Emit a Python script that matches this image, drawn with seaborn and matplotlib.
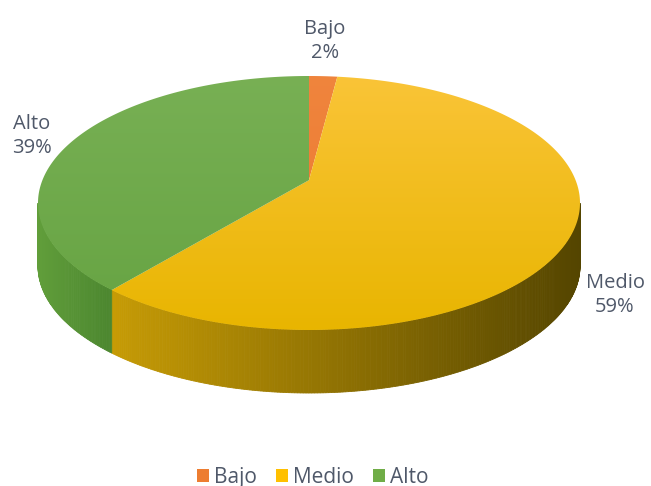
import numpy as np
import matplotlib
matplotlib.use("Agg")
import matplotlib.pyplot as plt
from matplotlib.patches import Polygon, Patch
import seaborn as sns

# ---- data ----
categories = ["Bajo", "Medio", "Alto"]
values = [2, 59, 39]
colors = ["#ED7D31", "#FFC000", "#70AD47"]

sns.set_theme(style="white")
plt.rcParams["font.family"] = ["Open Sans", "DejaVu Sans"]

W, H = 651, 486
fig = plt.figure(figsize=(W / 100, H / 100), dpi=100)
ax = fig.add_axes([0, 0, 1, 1])
ax.set_xlim(0, W)
ax.set_ylim(H, 0)
ax.axis("off")

# ---- geometry (layout) ----
cx, cy, rx, ry = 309.0, 203.0, 271.0, 127.0
depth = 63.0
b = -0.18  # perspective boost
s = np.sqrt(1 - b * b)


def proj(t_deg, dy=0.0):
    t = np.radians(t_deg)
    u, v = np.sin(t), -np.cos(t)
    den = 1 + b * v
    up = u * s / den
    vp = (v + b) / den
    return cx + up * rx, cy + vp * ry + dy


apex = (cx, cy + b * ry)

fr = np.array(values, dtype=float) / np.sum(values)
bounds = np.concatenate([[0], np.cumsum(fr) * 360])

side_cols = {
    0: [(0.80, 0.42, 0.15), (0.70, 0.35, 0.10)],
    1: [(0.78, 0.61, 0.02), (0.33, 0.27, 0.00)],
    2: [(0.38, 0.62, 0.23), (0.29, 0.52, 0.18)],
}
top_cols = {
    0: [(0.94, 0.52, 0.24), (0.92, 0.47, 0.18)],
    1: [(0.98, 0.77, 0.22), (0.91, 0.71, 0.00)],
    2: [(0.47, 0.69, 0.33), (0.40, 0.64, 0.26)],
}

vis_lo = np.degrees(np.arccos(b))  # where v = -b
vis_hi = 360 - vis_lo

# side walls
for i in range(len(values)):
    a0, a1 = max(bounds[i], vis_lo), min(bounds[i + 1], vis_hi)
    if a1 <= a0:
        continue
    ts = np.linspace(a0, a1, max(2, int((a1 - a0) * 2) + 1))
    c0, c1 = np.array(side_cols[i][0]), np.array(side_cols[i][1])
    for ta, tb in zip(ts[:-1], ts[1:]):
        x1, y1 = proj(ta)
        x2, y2 = proj(tb)
        xm = 0.5 * (x1 + x2)
        if i == 1:
            f = np.clip((xm - 110) / (580 - 110), 0, 1)
        elif i == 2:
            f = np.clip((xm - 37) / (117 - 37), 0, 1)
        else:
            f = np.clip((xm - 37) / (580 - 37), 0, 1)
        col = c0 + (c1 - c0) * f
        poly = Polygon([(x1, y1), (x2, y2), (x2, y2 + depth), (x1, y1 + depth)],
                       closed=True, facecolor=col, edgecolor=col, lw=0.6)
        ax.add_patch(poly)

# top surfaces with vertical gradient
for i in range(len(values)):
    ts = np.linspace(bounds[i], bounds[i + 1], 200)
    pts = [apex] + [proj(t) for t in ts]
    poly = Polygon(pts, closed=True, facecolor="none", edgecolor="none")
    ax.add_patch(poly)
    c0, c1 = np.array(top_cols[i][0]), np.array(top_cols[i][1])
    g = np.linspace(0, 1, 256)[:, None]
    img = c0[None, None, :] + (c1 - c0)[None, None, :] * g[:, :, None]
    img = np.repeat(img, 2, axis=1)
    im = ax.imshow(img, extent=[cx - rx - 2, cx + rx + 2, cy + ry + 2, cy - ry - 2],
                   aspect="auto", interpolation="bilinear", zorder=2)
    im.set_clip_path(poly)

ax.set_xlim(0, W)
ax.set_ylim(H, 0)

# labels
txt_col = "#4F5869"
lab_pos = {"Bajo": (325, 41), "Medio": (615, 295), "Alto": (32, 136)}
for c, v in zip(categories, values):
    x, y = lab_pos[c]
    ax.text(x, y, f"{c}\n{v}%", ha="center", va="center", fontsize=14.5,
            color=txt_col, linespacing=1.25, zorder=5)

handles = [Patch(facecolor=col, edgecolor="none", label=c) for c, col in zip(categories, colors)]
leg = ax.legend(handles=handles, loc="center", bbox_to_anchor=(313 / W, 1 - 477 / H),
                bbox_transform=ax.transAxes, ncol=3, frameon=False, fontsize=15,
                handlelength=0.58, handleheight=0.58, handletextpad=0.25,
                columnspacing=0.9, labelcolor=txt_col, borderpad=0, borderaxespad=0)

fig.savefig("out.png", dpi=100, facecolor="white")
